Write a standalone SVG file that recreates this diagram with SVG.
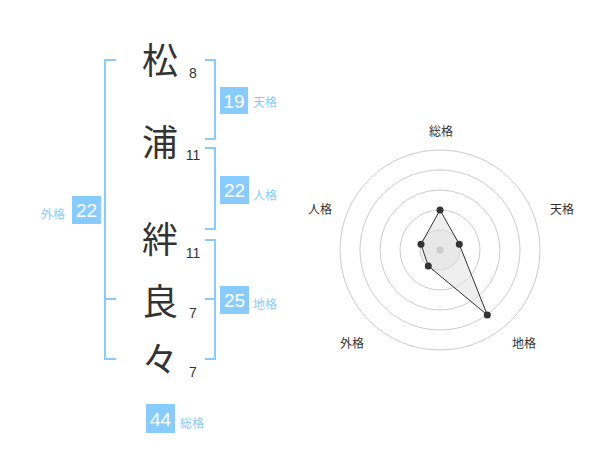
<svg xmlns="http://www.w3.org/2000/svg" width="600" height="470" viewBox="0 0 600 470">
<style>
.kanji{font-family:"Noto Sans CJK JP","Noto Sans CJK SC",sans-serif;font-size:36px;fill:#333;text-anchor:middle}
.num{font-family:"Liberation Sans",Arial,sans-serif;font-size:14px;fill:#333;text-anchor:middle}
.br{fill:none;stroke:#88ccff;stroke-width:2}
.box{fill:#88ccff}
.bnum{font-family:"Liberation Sans",Arial,sans-serif;font-size:19px;fill:#fff;text-anchor:middle}
.lab{font-family:"Noto Sans CJK JP","Noto Sans CJK SC",sans-serif;font-size:12px;fill:#88ccff}
.ring{fill:none;stroke:#cccccc;stroke-width:1}
.rlab{font-family:"Noto Sans CJK JP","Noto Sans CJK SC",sans-serif;font-size:12px;fill:#333;text-anchor:middle}
.pt{fill:#333}
</style>
<rect width="600" height="470" fill="#fff"/>
<g id="connectors">
<path class="br" d="M116,60 H105 V359 H116 M105,299 H116"/>
<path class="br" d="M205,60 H215 V139 H205"/>
<path class="br" d="M205,148 H215 V229 H205"/>
<path class="br" d="M205,240 H215 V359 H205 M205,299 H215"/>
</g>
<g id="char1"><text class="kanji" x="160" y="74">松</text><text class="num" x="193" y="78">8</text></g>
<g id="char2"><text class="kanji" x="160" y="156">浦</text><text class="num" x="193" y="160">11</text></g>
<g id="char3"><text class="kanji" x="160" y="253">絆</text><text class="num" x="193" y="258">11</text></g>
<g id="char4"><text class="kanji" x="160" y="315">良</text><text class="num" x="193" y="318">7</text></g>
<g id="char5"><text class="kanji" x="160" y="373">々</text><text class="num" x="193" y="377">7</text></g>
<g id="tenkaku"><rect class="box" x="220" y="87" width="28" height="27"/><text class="bnum" x="234" y="107.5">19</text><text class="lab" x="253" y="107">天格</text></g>
<g id="jinkaku"><rect class="box" x="220" y="176" width="29" height="28"/><text class="bnum" x="234.5" y="197">22</text><text class="lab" x="253" y="199.5">人格</text></g>
<g id="chikaku"><rect class="box" x="220" y="286" width="29" height="28"/><text class="bnum" x="234.5" y="307">25</text><text class="lab" x="253" y="309">地格</text></g>
<g id="gaikaku"><rect class="box" x="72" y="196" width="29" height="28"/><text class="bnum" x="86.5" y="217">22</text><text class="lab" x="41" y="219">外格</text></g>
<g id="soukaku"><rect class="box" x="146" y="404" width="29" height="29"/><text class="bnum" x="160.5" y="425.5">44</text><text class="lab" x="180" y="428">総格</text></g>
<g id="radar">
<circle cx="440" cy="250" r="20" fill="#f0f0f0" stroke="none"/>
<circle class="ring" cx="440" cy="250" r="20"/>
<circle class="ring" cx="440" cy="250" r="40"/>
<circle class="ring" cx="440" cy="250" r="60"/>
<circle class="ring" cx="440" cy="250" r="80"/>
<circle class="ring" cx="440" cy="250" r="100"/>
<polygon points="440,210 459.3,244.3 487.3,315 428.3,266 421,244.3" fill="#e0e0e0" fill-opacity="0.5" stroke="#333" stroke-width="1"/>
<circle cx="440" cy="250" r="3.5" fill="#cccccc"/>
<circle class="pt" cx="440" cy="210" r="3.5"/>
<circle class="pt" cx="459.3" cy="244.3" r="3.5"/>
<circle class="pt" cx="487.3" cy="315" r="3.5"/>
<circle class="pt" cx="428.3" cy="266" r="3.5"/>
<circle class="pt" cx="421" cy="244.3" r="3.5"/>
<text class="rlab" x="441" y="136">総格</text>
<text class="rlab" x="562" y="214">天格</text>
<text class="rlab" x="524" y="348">地格</text>
<text class="rlab" x="352" y="348">外格</text>
<text class="rlab" x="320" y="214">人格</text>
</g>
</svg>
